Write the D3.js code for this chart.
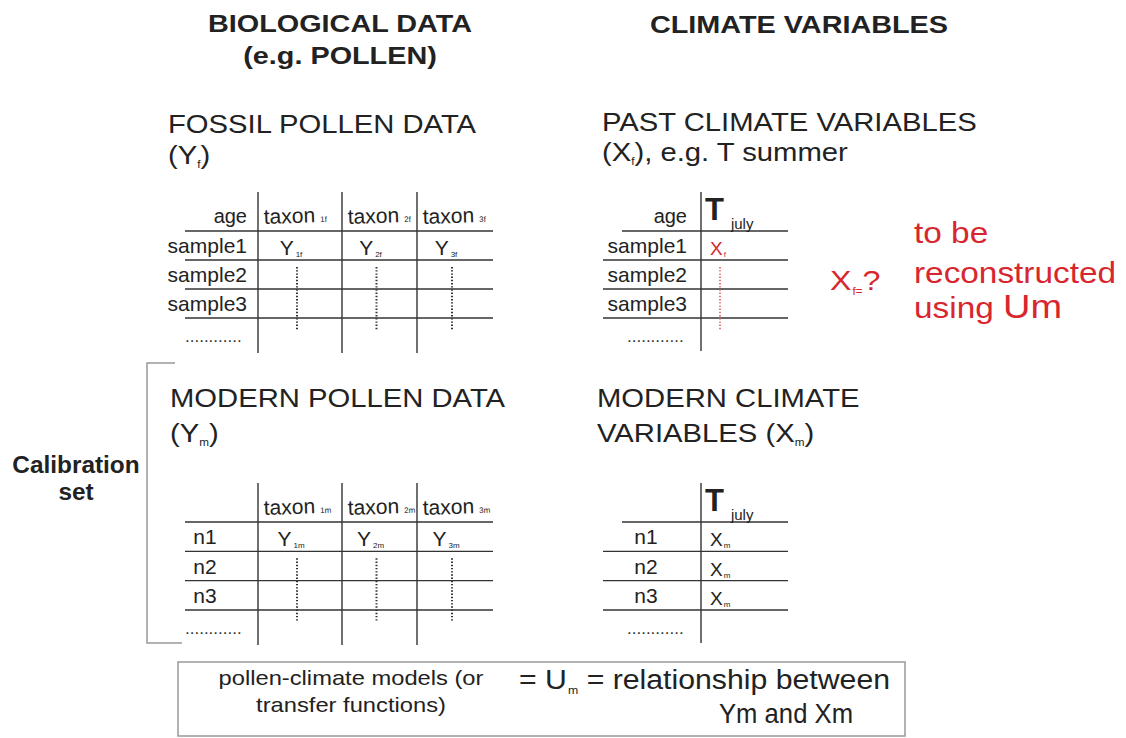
<!DOCTYPE html>
<html>
<head>
<meta charset="utf-8">
<script src="https://cdn.jsdelivr.net/npm/d3@7"></script>
<style>
  html, body { margin: 0; padding: 0; background: #fff; }
  svg { display: block; font-family: "Liberation Sans", Arial, Helvetica, sans-serif; }
</style>
</head>
<body>
<svg id="chart" width="1126" height="738"></svg>
<script>
// ---------- content (data) ----------
const mainHeadings = ["BIOLOGICAL DATA", "(e.g. POLLEN)", "CLIMATE VARIABLES"];
const fossilRowLabels = ["sample1", "sample2", "sample3"];
const modernRowLabels = ["n1", "n2", "n3"];
const moreRows = "............";
const ageLabel = "age";
const fossilTaxonSubs = ["1f", "2f", "3f"];
const modernTaxonSubs = ["1m", "2m", "3m"];
const fossilCells = [["Y", "1f"], ["Y", "2f"], ["Y", "3f"]];
const modernCells = [["Y", "1m"], ["Y", "2m"], ["Y", "3m"]];
const pastClimateCells = [["X", "f"]];
const modernClimateCells = [["X", "m"], ["X", "m"], ["X", "m"]];
const climateVar = ["T", "july"];
const redNote = ["to be", "reconstructed", "using "];
const modelText = ["pollen-climate models (or", "transfer functions)"];

// ---------- drawing ----------
const ink = "#222";
const red = "#d8262e";
const svg = d3.select("#chart");
svg.append("rect").attr("width", 1126).attr("height", 738).attr("fill", "#fff");

// rich text: segments are strings or {sub, size, dy}
function rich(g, x, y, segs, o) {
  const t = g.append("text")
    .attr("transform", `translate(${x},${y}) scale(${o.sx || 1},1)`)
    .attr("font-size", o.size)
    .attr("font-weight", o.weight || "normal")
    .attr("fill", o.fill || ink)
    .attr("text-anchor", o.anchor || "start");
  let shift = 0;
  segs.forEach(s => {
    const isSub = typeof s !== "string";
    const txt = isSub ? s.sub : s;
    const target = isSub ? (s.dy != null ? s.dy : (o.subDy != null ? o.subDy : 4)) : 0;
    const ts = t.append("tspan").attr("dy", target - shift).text(txt);
    if (isSub) ts.attr("font-size", s.size || o.subSize || 10);
    if (isSub && s.dx) ts.attr("dx", s.dx);
    shift = target;
  });
  return t;
}

const g = svg.append("g");

// main headings
rich(g, 340, 32, [mainHeadings[0]], {size: 24, weight: "bold", anchor: "middle", sx: 1.2});
rich(g, 340, 64, [mainHeadings[1]], {size: 24, weight: "bold", anchor: "middle", sx: 1.2});
rich(g, 799, 33, [mainHeadings[2]], {size: 24, weight: "bold", anchor: "middle", sx: 1.2});

// section titles
const T = {size: 25, sx: 1.17};
rich(g, 168, 133, ["FOSSIL POLLEN DATA"], T);
rich(g, 168, 164, ["(Y", {sub: "f", size: 10, dy: 4}, ")"], T);
rich(g, 602, 131, ["PAST CLIMATE VARIABLES"], T);
rich(g, 602, 161, ["(X", {sub: "f", size: 10, dy: 4}, "), e.g. T summer"], T);
rich(g, 170, 407, ["MODERN POLLEN DATA"], T);
rich(g, 170, 442, ["(Y", {sub: "m", size: 10, dy: 4}, ")"], T);
rich(g, 597, 407, ["MODERN CLIMATE"], T);
rich(g, 597, 442, ["VARIABLES (X", {sub: "m", size: 10, dy: 4}, ")"], T);

// ---------- pollen tables ----------
const colX = d3.scaleLinear().domain([0, 1, 2, 3]).range([258, 342, 417, 493]);
const colMid = i => (colX(i) + colX(i + 1)) / 2;

function pollenTable(rowY, rowLabels, taxonSubs, cells, withAge, labelMode) {
  const t = svg.append("g");
  const n = rowLabels.length;
  t.selectAll("line.h").data(d3.range(n + 1)).join("line")
    .attr("x1", 185).attr("x2", colX(3))
    .attr("y1", d => rowY(d)).attr("y2", d => rowY(d))
    .attr("stroke", "#333").attr("stroke-width", 1.4);
  t.selectAll("line.v").data(d3.range(3)).join("line")
    .attr("x1", d => colX(d)).attr("x2", d => colX(d))
    .attr("y1", rowY(0) - 39).attr("y2", rowY(n) + 35)
    .attr("stroke", "#333").attr("stroke-width", 1.4);
  if (withAge) rich(t, colX(0) - 11, rowY(0) - 8, [ageLabel], {size: 20, anchor: "end"});
  taxonSubs.forEach((s, i) => {
    rich(t, colX(i) + 6, rowY(0) - 7, ["taxon", {sub: s, size: 8, dy: 0, dx: 5}], {size: 21})
      .attr("transform", `translate(${colX(i) + 6},${rowY(0) - 7}) rotate(-2)`);
  });
  rowLabels.forEach((r, i) => {
    const y = rowY(i + 1) - 7;
    if (labelMode === "end") rich(t, colX(0) - 11, y, [r], {size: 21, anchor: "end"});
    else rich(t, 205, y, [r], {size: 21, anchor: "middle"});
  });
  rich(t, 185, rowY(n) + 24, [moreRows], {size: 17, fill: "#333"});
  cells.forEach((c, i) => {
    rich(t, colMid(i) - 9, rowY(1) - 5, [c[0], {sub: c[1], size: 8, dy: 2, dx: 2}], {size: 21, anchor: "middle"});
  });
  t.selectAll("line.d").data(cells).join("line")
    .attr("x1", (d, i) => colMid(i) - 3).attr("x2", (d, i) => colMid(i) - 3)
    .attr("y1", rowY(1) + 7).attr("y2", rowY(n) + 12)
    .attr("stroke", "#333").attr("stroke-width", 2).attr("stroke-dasharray", "1.4 1.8");
}

const fossilY = d3.scaleLinear().domain([0, 3]).range([231, 318]);
const modernY = d3.scaleLinear().domain([0, 3]).range([522, 610]);
pollenTable(fossilY, fossilRowLabels, fossilTaxonSubs, fossilCells, true, "end");
pollenTable(modernY, modernRowLabels, modernTaxonSubs, modernCells, false, "middle");

// ---------- climate tables ----------
const cX = d3.scaleLinear().domain([0, 1]).range([701, 788]);
function climateTable(rowY, rowLabels, cells, withAge, labelMode, dotted) {
  const t = svg.append("g");
  const n = rowLabels.length;
  t.selectAll("line.h").data(d3.range(n + 1)).join("line")
    .attr("x1", d => d === 0 ? 622 : 603).attr("x2", cX(1))
    .attr("y1", d => rowY(d)).attr("y2", d => rowY(d))
    .attr("stroke", "#333").attr("stroke-width", 1.4);
  t.append("line").attr("x1", cX(0)).attr("x2", cX(0))
    .attr("y1", rowY(0) - 39).attr("y2", rowY(n) + 33)
    .attr("stroke", "#333").attr("stroke-width", 1.4);
  if (withAge) rich(t, cX(0) - 14, rowY(0) - 8, [ageLabel], {size: 20, anchor: "end"});
  rich(t, cX(0) + 4, rowY(0) - 11, [climateVar[0], {sub: climateVar[1], size: 15, dy: 9, dx: 7}], {size: 31, weight: "bold"})
    .select("tspan:nth-child(2)").attr("font-weight", "normal");
  rowLabels.forEach((r, i) => {
    const y = rowY(i + 1) - 7;
    if (labelMode === "end") rich(t, cX(0) - 14, y, [r], {size: 21, anchor: "end"});
    else rich(t, 646, y, [r], {size: 21, anchor: "middle"});
  });
  rich(t, 627, rowY(n) + 24, [moreRows], {size: 17, fill: "#333"});
  cells.forEach((c, i) => {
    rich(t, cX(0) + 9, rowY(i + 1) - 5, [c[0], {sub: c[1], size: 8, dy: 2, dx: 1}],
      {size: 19, fill: dotted ? red : ink});
  });
  if (dotted) {
    t.append("line").attr("x1", cX(0) + 19).attr("x2", cX(0) + 19)
      .attr("y1", rowY(1) + 7).attr("y2", rowY(n) + 12)
      .attr("stroke", "#e05a5a").attr("stroke-width", 1.6).attr("stroke-dasharray", "1.4 1.8");
  }
}
climateTable(fossilY, fossilRowLabels, pastClimateCells, true, "end", true);
climateTable(modernY, modernRowLabels, modernClimateCells, false, "middle", false);

// ---------- red annotation ----------
rich(g, 830, 290, ["X", {sub: "f=", size: 10, dy: 5, dx: 1}, "?"], {size: 28, fill: red, sx: 1.15});
rich(g, 914, 243, [redNote[0]], {size: 29, fill: red, sx: 1.15});
rich(g, 914, 283, [redNote[1]], {size: 29, fill: red, sx: 1.15});
const un = rich(g, 914, 318, [redNote[2]], {size: 29, fill: red, sx: 1.15});
un.append("tspan").attr("font-size", 33).text("Um");

// ---------- calibration bracket ----------
g.append("path")
  .attr("d", d3.line()([[175, 363], [147, 363], [147, 643], [182, 643]]))
  .attr("fill", "none").attr("stroke", "#999").attr("stroke-width", 1.5);
rich(g, 76, 473, ["Calibration"], {size: 23, weight: "bold", anchor: "middle", sx: 1.06});
rich(g, 76, 500, ["set"], {size: 23, weight: "bold", anchor: "middle", sx: 1.06});

// ---------- bottom model box ----------
g.append("rect").attr("x", 178).attr("y", 662).attr("width", 727).attr("height", 74)
  .attr("fill", "none").attr("stroke", "#999").attr("stroke-width", 1.5);
rich(g, 351, 685, [modelText[0]], {size: 21, anchor: "middle", sx: 1.13});
rich(g, 351, 712, [modelText[1]], {size: 21, anchor: "middle", sx: 1.13});
rich(g, 519, 689, ["= U", {sub: "m", size: 11, dy: 5, dx: 1}, " = relationship between"], {size: 27, sx: 1.12});
rich(g, 786, 723, ["Ym and Xm"], {size: 27, anchor: "middle", sx: 0.95});
</script>
</body>
</html>
